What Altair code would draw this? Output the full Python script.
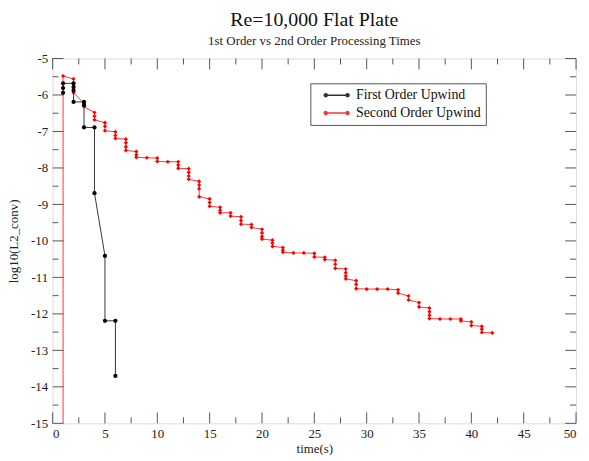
import altair as alt
import pandas as pd

# ---------------- data ----------------
series_names = ["First Order Upwind", "Second Order Upwind"]
series_colors = ["#000000", "#ff0000"]

first_time = [1, 1, 1, 2, 2, 2, 2, 3, 3, 3, 4, 4, 5, 5, 6, 6]
first_value = [-5.94, -5.81, -5.68, -5.68, -5.78, -5.88, -6.19, -6.19, -6.28,
               -6.89, -6.89, -8.69, -10.41, -12.19, -12.19, -13.70]

second_time = [1, 1,
               2, 2, 2, 2,
               3, 3,
               4, 4, 4,
               5, 5, 5,
               6, 6, 6,
               7, 7, 7, 7,
               8, 8, 8,
               9,
               10, 10,
               11,
               12, 12, 12,
               13, 13, 13, 13,
               14, 14, 14, 14,
               15, 15, 15,
               16, 16, 16,
               17, 17,
               18, 18, 18,
               19, 19,
               20, 20, 20, 20,
               21, 21, 21,
               22, 22, 22,
               23,
               24,
               25, 25,
               26, 26,
               27, 27, 27,
               28, 28, 28, 28,
               29, 29, 29,
               30,
               31,
               32,
               33, 33,
               34, 34,
               35, 35,
               36, 36, 36, 36,
               37,
               38,
               39, 39,
               40, 40,
               41, 41, 41,
               42]
second_value = [-16.0, -5.48,
                -5.56, -5.68, -5.81, -5.94,
                -6.23, -6.32,
                -6.48, -6.58, -6.68,
                -6.76, -6.86, -6.98,
                -7.01, -7.11, -7.19,
                -7.21, -7.31, -7.42, -7.52,
                -7.55, -7.64, -7.71,
                -7.72,
                -7.73, -7.82,
                -7.83,
                -7.83, -7.92, -8.01,
                -8.02, -8.12, -8.22, -8.31,
                -8.37, -8.47, -8.57, -8.79,
                -8.85, -8.95, -9.05,
                -9.08, -9.16, -9.23,
                -9.23, -9.32,
                -9.34, -9.44, -9.54,
                -9.55, -9.63,
                -9.68, -9.78, -9.88, -9.95,
                -9.98, -10.06, -10.15,
                -10.18, -10.25, -10.31,
                -10.33,
                -10.33,
                -10.34, -10.44,
                -10.45, -10.51,
                -10.53, -10.64, -10.75,
                -10.77, -10.87, -10.96, -11.04,
                -11.09, -11.19, -11.31,
                -11.32,
                -11.32,
                -11.32,
                -11.34, -11.43,
                -11.51, -11.62,
                -11.69, -11.81,
                -11.84, -11.94, -12.04, -12.13,
                -12.14,
                -12.14,
                -12.14, -12.19,
                -12.22, -12.32,
                -12.34, -12.42, -12.51,
                -12.52]

x_major = [0, 5, 10, 15, 20, 25, 30, 35, 40, 45, 50]
x_minor = [2.5, 7.5, 12.5, 17.5, 22.5, 27.5, 32.5, 37.5, 42.5, 47.5]
y_major = [-5, -6, -7, -8, -9, -10, -11, -12, -13, -14, -15]
y_minor = [-5.5, -6.5, -7.5, -8.5, -9.5, -10.5, -11.5, -12.5, -13.5, -14.5]

# ---------------- build tables ----------------
rows = []
for i, (t, v) in enumerate(zip(first_time, first_value)):
    rows.append({"series": series_names[0], "time": t, "value": v, "idx": i})
for i, (t, v) in enumerate(zip(second_time, second_value)):
    rows.append({"series": series_names[1], "time": t, "value": v, "idx": i})
df = pd.DataFrame(rows)

W, H = 528, 368
SERIF = "Liberation Serif"
xscale = alt.Scale(domain=[0, 50], nice=False, zero=False)
yscale = alt.Scale(domain=[-15, -5], nice=False, zero=False)
cscale = alt.Scale(domain=series_names, range=series_colors)

# legend glyph: a short line with a dot at each end
legend_path = ("M0.4,0L5.4,0"
               "M0.4,0A0.3,0.3,0,1,0,1.0,0A0.3,0.3,0,1,0,0.4,0"
               "M4.8,0A0.3,0.3,0,1,0,5.4,0A0.3,0.3,0,1,0,4.8,0")

x_axis = alt.Axis(values=x_major, labelExpr="'' + datum.value", ticks=False,
                  domain=False, grid=False, labelFont=SERIF, labelFontSize=13,
                  labelColor="#222", labelPadding=4, title="time(s)",
                  titleFont=SERIF, titleFontSize=13, titleFontWeight="normal",
                  titleColor="#222", titlePadding=2)
y_axis = alt.Axis(values=y_major, labelExpr="'' + datum.value", ticks=False,
                  domain=False, grid=False, labelFont=SERIF, labelFontSize=13,
                  labelColor="#222", labelPadding=5, title="log10(L2_conv)",
                  titleFont=SERIF, titleFontSize=13, titleFontWeight="normal",
                  titleColor="#222", titlePadding=10)

lines = alt.Chart(df).mark_line(strokeWidth=1, clip=True, opacity=0.8).encode(
    x=alt.X("time:Q", scale=xscale, axis=x_axis),
    y=alt.Y("value:Q", scale=yscale, axis=y_axis),
    color=alt.Color("series:N", scale=cscale, legend=alt.Legend(
        title=None, orient="none", legendX=260, legendY=25,
        symbolType=legend_path, symbolSize=100, symbolStrokeWidth=1.5,
        labelFont=SERIF, labelFontSize=14, labelColor="#111", labelOffset=27,
        strokeColor="#555", fillColor="white", padding=5, rowPadding=4)),
    detail="series:N",
    order=alt.Order("idx:Q"),
)


def point_layer(name, color, shape):
    return alt.Chart(df).transform_filter(
        alt.datum.series == name
    ).mark_point(filled=True, size=18, clip=True, opacity=1, color=color,
                 shape=shape).encode(
        x=alt.X("time:Q", scale=xscale, axis=x_axis),
        y=alt.Y("value:Q", scale=yscale, axis=y_axis),
    )


points_first = point_layer(series_names[0], series_colors[0], "circle")
points_second = point_layer(series_names[1], series_colors[1], "diamond")


def xticks(vals, length, bottom):
    d = pd.DataFrame({"v": vals})
    return alt.Chart(d).mark_rule(color="#555", strokeWidth=1).encode(
        x=alt.X("v:Q", scale=xscale, axis=x_axis),
        y=alt.value(H if bottom else 0),
        y2=alt.value(H - length if bottom else length),
    )


def yticks(vals, length, left):
    d = pd.DataFrame({"v": vals})
    return alt.Chart(d).mark_rule(color="#555", strokeWidth=1).encode(
        y=alt.Y("v:Q", scale=yscale, axis=y_axis),
        x=alt.value(0 if left else W),
        x2=alt.value(length if left else W - length),
    )


tick_layers = [
    xticks(x_major, 11, True), xticks(x_minor, 6, True),
    xticks(x_major, 11, False), xticks(x_minor, 6, False),
    yticks(y_major, 11, True), yticks(y_minor, 6, True),
    yticks(y_major, 11, False), yticks(y_minor, 6, False),
]

chart = alt.layer(lines, *tick_layers, points_second, points_first).properties(
    width=W, height=H,
    title=alt.TitleParams(
        text="Re=10,000 Flat Plate",
        subtitle="1st Order vs 2nd Order Processing Times",
        font=SERIF, fontSize=20, fontWeight="normal", color="#111",
        subtitleFont=SERIF, subtitleFontSize=13, subtitleColor="#222",
        subtitlePadding=5, anchor="middle", offset=5),
    padding={"left": 45, "top": 49, "right": 5, "bottom": 30},
    autosize=alt.AutoSizeParams(type="none"),
).configure_view(stroke="#444", strokeWidth=1).configure(background="white")

chart.save("out.html", embed_options={"renderer": "svg", "actions": False})
